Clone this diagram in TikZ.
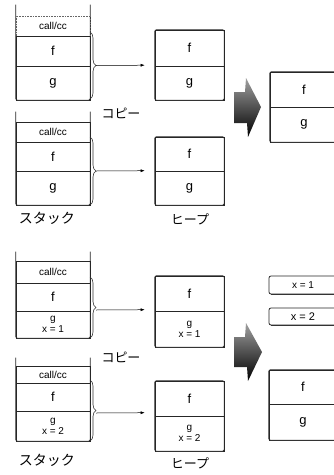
\documentclass[tikz,border=0pt]{standalone}
\usepackage{fontspec}
\setmainfont{Liberation Sans}
\newfontfamily\jp{Noto Sans CJK JP}
\usetikzlibrary{decorations.pathreplacing,arrows.meta}
\tikzset{
  cell/.style={draw=black!85,line width=0.6pt,inner sep=0pt,minimum width=#1,font=\fontsize{13}{13}\selectfont},
  cell/.default=74pt,
  cc/.style={font=\fontsize{10}{10}\selectfont},
  frame/.style={draw=black!85,line width=0.8pt,rounded corners=2pt},
  shadowline/.style={draw=black!80,line width=1.6pt},
  brc/.style={draw=black!80,line width=0.6pt,decorate,decoration={brace,amplitude=6pt}},
  arr/.style={draw=black,line width=0.5pt,-{Latex[length=4pt,width=3pt]}},
  lab/.style={font=\jp\fontsize{13}{13}\selectfont,inner sep=0pt},
  bigarrow/.style={top color=gray!75,bottom color=black,draw=none},
  small/.style={font=\fontsize{10}{11}\selectfont,align=center},
}
\begin{document}
\begin{tikzpicture}[x=1pt,y=-1pt]
\useasboundingbox (0,0) rectangle (334,475);
\clip (0,0) rectangle (334,475);

% ---------- top half ----------
% stack 1
\node[cell,minimum height=20pt,cc,draw=black!60,densely dotted] (s1c) at (53,26) {call/cc};
\node[cell,minimum height=30pt] (s1f) at (53,51) {f};
\node[cell,minimum height=34pt] (s1g) at (53,83) {g};
\draw[frame] ([yshift=11pt]s1c.north west) -- (s1g.south west) -- (s1g.south east) -- ([yshift=11pt]s1c.north east);
\draw[shadowline] ([xshift=1pt]s1g.south west) -- ([xshift=-1pt]s1g.south east);
% heap 1
\node[cell=69pt,minimum height=36pt] (h1f) at (189.5,48) {f};
\node[cell=69pt,minimum height=34pt] (h1g) at (189.5,83) {g};
\draw[frame] (h1f.north west) rectangle (h1g.south east);
\draw[shadowline] ([xshift=1pt]h1g.south west) -- ([xshift=-1pt]h1g.south east);
% brace + arrow 1
\draw[brc] (90,32) -- (90,99);
\coordinate (b1t) at (96,65.5);
\draw[arr] (b1t) -- ([xshift=-10pt,yshift=0.5pt]h1g.north west);

\node[lab] (copy1) at (121,113) {コピー};

% stack 2
\node[cell,minimum height=20pt,cc] (s2c) at (53,132) {call/cc};
\node[cell,minimum height=29pt] (s2f) at (53,156.5) {f};
\node[cell,minimum height=34pt] (s2g) at (53,188) {g};
\draw[frame] ([yshift=10pt]s2c.north west) -- (s2g.south west) -- (s2g.south east) -- ([yshift=10pt]s2c.north east);
\draw[shadowline] ([xshift=1pt]s2g.south west) -- ([xshift=-1pt]s2g.south east);
% heap 2
\node[cell=69pt,minimum height=34pt] (h2f) at (189.5,154) {f};
\node[cell=69pt,minimum height=34pt] (h2g) at (189.5,188) {g};
\draw[frame] (h2f.north west) rectangle (h2g.south east);
\draw[shadowline] ([xshift=1pt]h2g.south west) -- ([xshift=-1pt]h2g.south east);
\draw[brc] (90,137) -- (90,205);
\coordinate (b2t) at (96,171);
\draw[arr] (b2t) -- ([xshift=-10pt]h2g.north west);

\node[lab,font=\jp\fontsize{14}{14}\selectfont] (st1) at (47,218) {スタック};
\node[lab] (hp1) at (190,219) {ヒープ};

% big arrow 1
\path[bigarrow] (234,92) -- (245,92) -- (246,78) -- (261,107) -- (248,137) -- (247,123) -- (234,123) -- cycle;

% result 1
\node[cell=68pt,minimum height=35pt] (r1f) at (304,89.5) {f};
\node[cell=68pt,minimum height=35pt] (r1g) at (304,124.5) {g};
\draw[frame] (r1f.north west) rectangle (r1g.south east);
\draw[shadowline] ([xshift=1pt]r1g.south west) -- (r1g.south east);

% ---------- bottom half ----------
% stack 3
\node[cell,minimum height=22pt,cc] (s3c) at (53,272) {call/cc};
\node[cell,minimum height=28pt] (s3f) at (53,297) {f};
\node[cell,minimum height=27pt,small] (s3g) at (53,324.5) {g\\x = 1};
\draw[frame] ([yshift=9pt]s3c.north west) -- (s3g.south west) -- (s3g.south east) -- ([yshift=9pt]s3c.north east);
\draw[shadowline] ([xshift=1pt]s3g.south west) -- ([xshift=-1pt]s3g.south east);
% heap 3
\node[cell=69pt,minimum height=35pt] (h3f) at (189.5,293.5) {f};
\node[cell=69pt,minimum height=36pt,small] (h3g) at (189.5,329) {g\\x = 1};
\draw[frame] (h3f.north west) rectangle (h3g.south east);
\draw[shadowline] ([xshift=1pt]h3g.south west) -- ([xshift=-1pt]h3g.south east);
\draw[brc] (90,277) -- (90,338);
\coordinate (b3t) at (96,310);
\draw[arr] (b3t) -- ([xshift=-10pt,yshift=1pt]h3g.north west);

\node[lab] (copy2) at (121,357) {コピー};

% stack 4
\node[cell,minimum height=17pt,cc] (s4c) at (53,374.5) {call/cc};
\node[cell,minimum height=28pt] (s4f) at (53,397) {f};
\node[cell,minimum height=30pt,small] (s4g) at (53,426) {g\\x = 2};
\draw[frame] ([yshift=8pt]s4c.north west) -- (s4g.south west) -- (s4g.south east) -- ([yshift=8pt]s4c.north east);
\draw[shadowline] ([xshift=1pt]s4g.south west) -- ([xshift=-1pt]s4g.south east);
% heap 4
\node[cell=69pt,minimum height=35pt] (h4f) at (189.5,398.5) {f};
\node[cell=69pt,minimum height=35pt,small] (h4g) at (189.5,433.5) {g\\x = 2};
\draw[frame] (h4f.north west) rectangle (h4g.south east);
\draw[shadowline] ([xshift=1pt]h4g.south west) -- ([xshift=-1pt]h4g.south east);
\draw[brc] (90,380) -- (90,441);
\coordinate (b4t) at (96,413);
\draw[arr] (b4t) -- ([xshift=-10pt,yshift=3pt]h4g.north west);

\node[lab,font=\jp\fontsize{14}{14}\selectfont] (st2) at (47,460) {スタック};
\node[lab] (hp2) at (190,463) {ヒープ};

% big arrow 2
\path[bigarrow] (234,337) -- (245,337) -- (246,323) -- (262,352) -- (248,381) -- (247,367) -- (234,367) -- cycle;

% result 2
\node[draw=black!85,line width=0.8pt,rounded corners=2pt,minimum width=68pt,minimum height=18pt,inner sep=0pt,font=\fontsize{10}{10}\selectfont] (rx1) at (303,285) {x = 1};
\draw[shadowline] ([xshift=2pt]rx1.south west) -- (rx1.south east);
\node[draw=black!85,line width=0.8pt,rounded corners=2pt,minimum width=68pt,minimum height=17pt,inner sep=0pt,font=\fontsize{11}{11}\selectfont] (rx2) at (303,316.5) {x = 2};
\draw[shadowline] ([xshift=2pt]rx2.south west) -- (rx2.south east);
\node[cell=68pt,minimum height=34pt] (r2f) at (303,387) {f};
\node[cell=68pt,minimum height=36pt] (r2g) at (303,422) {g};
\draw[frame] (r2f.north west) rectangle (r2g.south east);
\draw[shadowline] ([xshift=1pt]r2g.south west) -- (r2g.south east);
\end{tikzpicture}
\end{document}
